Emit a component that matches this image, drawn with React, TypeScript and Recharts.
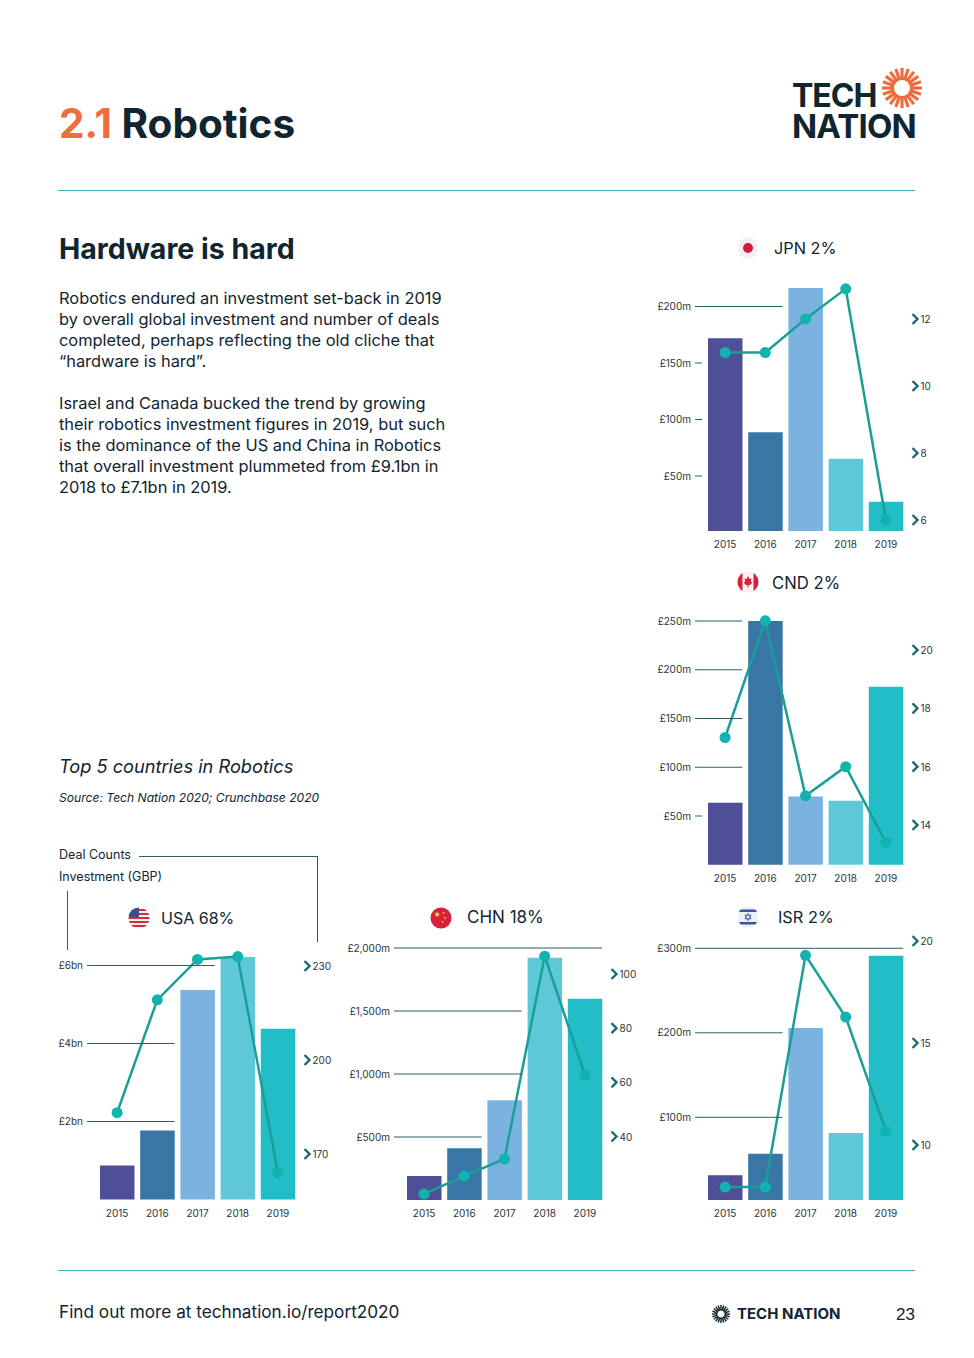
import { Bar, Cell, ComposedChart, Line, XAxis, YAxis } from "recharts";

const years = ["2015", "2016", "2017", "2018", "2019"];
const barColors = ["#4f4f97", "#3776a5", "#7ab3e0", "#5ec8d8", "#22bdc6"];

const usaInvestment = [0.87, 1.77, 5.37, 6.22, 4.38];
const usaDeals = [183.2, 219.2, 232.1, 233, 164];
const usaInvestmentTicks = [2, 4, 6];
const usaDealTicks = [170, 200, 230];

const chnInvestment = [190, 411, 791, 1922, 1598];
const chnDeals = [18.8, 25.4, 31.7, 106.6, 62.7];
const chnInvestmentTicks = [500, 1000, 1500, 2000];
const chnDealTicks = [40, 60, 80, 100];

const isrInvestment = [31.4, 56.9, 205.7, 81.4, 291.2];
const isrDeals = [7.94, 7.94, 19.3, 16.27, 10.69];
const isrInvestmentTicks = [100, 200, 300];
const isrDealTicks = [10, 15, 20];

const jpnInvestment = [172, 88.7, 216.4, 65.3, 27.3];
const jpnDeals = [11, 11, 12, 12.9, 6];
const jpnInvestmentTicks = [50, 100, 150, 200];
const jpnDealTicks = [6, 8, 10, 12];

const cndInvestment = [63.6, 250, 70, 65.6, 182.6];
const cndDeals = [17, 21, 15, 16, 13.4];
const cndInvestmentTicks = [50, 100, 150, 200, 250];
const cndDealTicks = [14, 16, 18, 20];

const introLines = [
  "Robotics endured an investment set-back in 2019",
  "by overall global investment and number of deals",
  "completed, perhaps reflecting the old cliche that",
  "“hardware is hard”.",
  "",
  "Israel and Canada bucked the trend by growing",
  "their robotics investment figures in 2019, but such",
  "is the dominance of the US and China in Robotics",
  "that overall investment plummeted from £9.1bn in",
  "2018 to £7.1bn in 2019.",
];

const FONT = "Inter, sans-serif";
const DARK = "#10252f";
const RULE = "#2f5d68";
const TEAL_RULE = "#3fb3b5";
const TICK_TEXT = "#26363e";
const PLOT_WIDTH = 201;
const BAR_WIDTH = 34.5;
const LEFT_GUTTER = 62;
const RIGHT_GUTTER = 44;

// domain for a plot box, from two known tick positions
function fitDomain(top: number, bottom: number, a: [number, number], b: [number, number]): [number, number] {
  const perPx = (b[0] - a[0]) / (a[1] - b[1]);
  return [a[0] - (bottom - a[1]) * perPx, a[0] + (a[1] - top) * perPx];
}

function InvestmentTick({ x, y, payload, values, format }: any) {
  const band = PLOT_WIDTH / years.length;
  const gap = (band - BAR_WIDTH) / 2;
  let idx = values.findIndex((v: number) => v >= payload.value);
  if (idx < 0) idx = values.length;
  return (
    <g>
      <text x={x - 14} y={y} dy={-0.5} textAnchor="end" dominantBaseline="central" fontSize={10} fill={TICK_TEXT} fontFamily={FONT}>
        {format(payload.value)}
      </text>
      <line x1={x - 10} x2={x + idx * band - gap} y1={y} y2={y} stroke={RULE} strokeWidth={1} />
    </g>
  );
}

function DealTick({ x, y, payload }: any) {
  return (
    <g>
      <path d={`M${x + 6.5} ${y - 5}L${x + 11.5} ${y}L${x + 6.5} ${y + 5}`} fill="none" stroke="#1d6a74" strokeWidth={2.4} />
      <text x={x + 14.5} y={y} textAnchor="start" dominantBaseline="central" fontSize={10} fill={TICK_TEXT} fontFamily={FONT}>
        {payload.value}
      </text>
    </g>
  );
}

function CountryChart({ plotLeft, plotTop, plotBottom, investment, deals, investmentTicks, dealTicks, investmentFit, dealFit, format }: any) {
  const data = years.map((year, i) => ({ year, investment: investment[i], deals: deals[i] }));
  return (
    <div style={{ position: "absolute", left: plotLeft - LEFT_GUTTER, top: plotTop }}>
      <ComposedChart
        width={LEFT_GUTTER + PLOT_WIDTH + RIGHT_GUTTER}
        height={plotBottom - plotTop + 26}
        data={data}
        margin={{ top: 0, right: 0, bottom: 0, left: 0 }}
      >
        <XAxis
          dataKey="year"
          height={26}
          axisLine={false}
          tickLine={false}
          tickSize={0}
          tickMargin={10}
          interval={0}
          tick={{ fontSize: 10, fill: TICK_TEXT, fontFamily: FONT }}
        />
        <YAxis
          yAxisId="investment"
          width={LEFT_GUTTER}
          domain={fitDomain(plotTop, plotBottom, investmentFit[0], investmentFit[1])}
          ticks={investmentTicks}
          interval={0}
          axisLine={false}
          tickLine={false}
          tickSize={0}
          tickMargin={0}
          tick={<InvestmentTick values={investment} format={format} />}
        />
        <YAxis
          yAxisId="deals"
          orientation="right"
          width={RIGHT_GUTTER}
          domain={fitDomain(plotTop, plotBottom, dealFit[0], dealFit[1])}
          ticks={dealTicks}
          interval={0}
          axisLine={false}
          tickLine={false}
          tickSize={0}
          tickMargin={0}
          tick={<DealTick />}
        />
        <Bar yAxisId="investment" dataKey="investment" barSize={BAR_WIDTH} isAnimationActive={false}>
          {years.map((year, i) => (
            <Cell key={year} fill={barColors[i]} />
          ))}
        </Bar>
        <Line
          yAxisId="deals"
          dataKey="deals"
          stroke="#1a9e9a"
          strokeWidth={2.5}
          dot={{ r: 5.5, fill: "#10b3ad", stroke: "none", fillOpacity: 1 }}
          activeDot={false}
          isAnimationActive={false}
        />
      </ComposedChart>
    </div>
  );
}

function Sun({ cx, cy, r, color }: { cx: number; cy: number; r: number; color: string }) {
  const rays = Array.from({ length: 20 }, (_, i) => (i * Math.PI) / 10);
  return (
    <svg style={{ position: "absolute", left: cx - r - 2, top: cy - r - 2 }} width={2 * r + 4} height={2 * r + 4}>
      <g transform={`translate(${r + 2} ${r + 2})`}>
        {rays.map((a) => (
          <line
            key={a}
            x1={Math.cos(a) * r * 0.5}
            y1={Math.sin(a) * r * 0.5}
            x2={Math.cos(a) * r}
            y2={Math.sin(a) * r}
            stroke={color}
            strokeWidth={r * 0.16}
          />
        ))}
        <circle r={r * 0.48} fill="#fff" stroke={color} strokeWidth={r * 0.16} />
      </g>
    </svg>
  );
}

function Flag({ cx, cy, kind }: { cx: number; cy: number; kind: string }) {
  const id = `flag-${kind}`;
  return (
    <svg style={{ position: "absolute", left: cx - 11, top: cy - 11 }} width={22} height={22} viewBox="-11 -11 22 22">
      <clipPath id={id}>
        <circle r={10.5} />
      </clipPath>
      <g clipPath={`url(#${id})`}>
        {kind === "usa" && (
          <g>
            <rect x={-11} y={-11} width={22} height={22} fill="#f4f1f1" />
            {[-9, -5, -1, 3, 7].map((y) => (
              <rect key={y} x={-11} y={y} width={22} height={2} fill="#d8293f" />
            ))}
            <rect x={-11} y={-11} width={11} height={10} fill="#3c4f8e" />
          </g>
        )}
        {kind === "chn" && (
          <g>
            <rect x={-11} y={-11} width={22} height={22} fill="#d8203a" />
            <text x={-4} y={-1} fontSize={8} textAnchor="middle" fill="#f8d548" fontFamily="DejaVu Sans">★</text>
            <text x={2.5} y={-4} fontSize={3.5} textAnchor="middle" fill="#f8d548" fontFamily="DejaVu Sans">★</text>
            <text x={4} y={1} fontSize={3.5} textAnchor="middle" fill="#f8d548" fontFamily="DejaVu Sans">★</text>
            <text x={1.5} y={5} fontSize={3.5} textAnchor="middle" fill="#f8d548" fontFamily="DejaVu Sans">★</text>
          </g>
        )}
        {kind === "isr" && (
          <g>
            <rect x={-11} y={-11} width={22} height={22} fill="#eef0f4" />
            <rect x={-11} y={-7.5} width={22} height={2.5} fill="#3555a5" />
            <rect x={-11} y={5} width={22} height={2.5} fill="#3555a5" />
            <path d="M0 -3.6L3.1 1.8H-3.1ZM0 3.6L-3.1 -1.8H3.1Z" fill="none" stroke="#3555a5" strokeWidth={0.8} />
          </g>
        )}
        {kind === "jpn" && (
          <g>
            <rect x={-11} y={-11} width={22} height={22} fill="#f0f0f0" />
            <circle r={5} fill="#d8193c" />
          </g>
        )}
        {kind === "cnd" && (
          <g>
            <rect x={-11} y={-11} width={22} height={22} fill="#f7f2f2" />
            <rect x={-11} y={-11} width={5.5} height={22} fill="#d8203a" />
            <rect x={5.5} y={-11} width={5.5} height={22} fill="#d8203a" />
            <path d="M0 -6L1.5 -3L3.5 -3.6L2.8 0L4.5 0.5L2 3H0.5V5.5H-0.5V3H-2L-4.5 0.5L-2.8 0L-3.5 -3.6L-1.5 -3Z" fill="#d8203a" />
          </g>
        )}
      </g>
    </svg>
  );
}

function Label({ x, y, size, children, style }: any) {
  return (
    <div style={{ position: "absolute", left: x, top: y - 20, height: 40, lineHeight: "40px", fontSize: size, whiteSpace: "pre", color: DARK, ...style }}>
      {children}
    </div>
  );
}

function Box({ x, y, w, h, color }: any) {
  return <div style={{ position: "absolute", left: x, top: y, width: w, height: h, background: color }} />;
}

const bn = (v: number) => `£${v}bn`;
const mn = (v: number) => `£${v >= 1000 ? v.toLocaleString("en-GB") : v}m`;

export default function App() {
  return (
    <div style={{ position: "absolute", left: 0, top: 0, width: 974, height: 1358, background: "#fff", overflow: "hidden", fontFamily: FONT, color: DARK }}>
      <Label x={59} y={124} size={40.5} style={{ fontWeight: 700 }}>
        <span style={{ color: "#ee6c3d" }}>2.1</span> Robotics
      </Label>
      <Label x={792} y={96} size={32} style={{ fontWeight: 700, letterSpacing: -1 }}>TECH</Label>
      <Label x={792} y={126} size={33} style={{ fontWeight: 700, letterSpacing: -0.8 }}>NATION</Label>
      <Sun cx={902} cy={88} r={20} color="#ee6c3d" />
      <Box x={58} y={190} w={857} h={1} color={TEAL_RULE} />

      <Label x={59} y={249} size={28.5} style={{ fontWeight: 700 }}>Hardware is hard</Label>
      {introLines.map((line, i) => (
        <Label key={i} x={59} y={298 + i * 21} size={16.4}>{line}</Label>
      ))}

      <Label x={59} y={766} size={18.2} style={{ fontStyle: "italic" }}>Top 5 countries in Robotics</Label>
      <Label x={59} y={798} size={12.1} style={{ fontStyle: "italic" }}>Source: Tech Nation 2020; Crunchbase 2020</Label>

      <Label x={59} y={855} size={12.5}>Deal Counts</Label>
      <Label x={59} y={877} size={12.5}>Investment (GBP)</Label>
      <Box x={139} y={856} w={179} h={1} color={RULE} />
      <Box x={317} y={856} w={1} h={86} color={RULE} />
      <Box x={67} y={891} w={1} h={59} color={RULE} />

      <Flag cx={139} cy={917.5} kind="usa" />
      <Label x={161} y={918} size={16}>USA 68%</Label>
      <Flag cx={441} cy={917.5} kind="chn" />
      <Label x={467} y={917} size={17}>CHN 18%</Label>
      <Flag cx={748} cy={917} kind="isr" />
      <Label x={778} y={917} size={16.3}>ISR 2%</Label>
      <Flag cx={748} cy={248} kind="jpn" />
      <Label x={774} y={248} size={16.3}>JPN 2%</Label>
      <Flag cx={748} cy={582} kind="cnd" />
      <Label x={772} y={583} size={16.7}>CND 2%</Label>

      <CountryChart
        plotLeft={705}
        plotTop={270}
        plotBottom={531}
        investment={jpnInvestment}
        deals={jpnDeals}
        investmentTicks={jpnInvestmentTicks}
        dealTicks={jpnDealTicks}
        investmentFit={[[50, 476], [200, 306.5]]}
        dealFit={[[6, 520], [12, 319]]}
        format={mn}
      />
      <CountryChart
        plotLeft={705}
        plotTop={605}
        plotBottom={865}
        investment={cndInvestment}
        deals={cndDeals}
        investmentTicks={cndInvestmentTicks}
        dealTicks={cndDealTicks}
        investmentFit={[[50, 816], [250, 621]]}
        dealFit={[[14, 825], [20, 650]]}
        format={mn}
      />
      <CountryChart
        plotLeft={96.6}
        plotTop={945}
        plotBottom={1200}
        investment={usaInvestment}
        deals={usaDeals}
        investmentTicks={usaInvestmentTicks}
        dealTicks={usaDealTicks}
        investmentFit={[[2, 1121.5], [6, 965.5]]}
        dealFit={[[170, 1154], [230, 966]]}
        format={bn}
      />
      <CountryChart
        plotLeft={403.7}
        plotTop={935}
        plotBottom={1200}
        investment={chnInvestment}
        deals={chnDeals}
        investmentTicks={chnInvestmentTicks}
        dealTicks={chnDealTicks}
        investmentFit={[[500, 1137], [2000, 948]]}
        dealFit={[[40, 1136.5], [100, 974]]}
        format={mn}
      />
      <CountryChart
        plotLeft={705}
        plotTop={935}
        plotBottom={1200}
        investment={isrInvestment}
        deals={isrDeals}
        investmentTicks={isrInvestmentTicks}
        dealTicks={isrDealTicks}
        investmentFit={[[100, 1117.3], [300, 948.3]]}
        dealFit={[[10, 1145], [20, 941]]}
        format={mn}
      />

      <Box x={58} y={1270} w={857} h={1} color={TEAL_RULE} />
      <Label x={59} y={1312} size={17.2}>Find out more at technation.io/report2020</Label>
      <Sun cx={721} cy={1314} r={9} color={DARK} />
      <Label x={737} y={1314} size={15} style={{ fontWeight: 700 }}>TECH NATION</Label>
      <Label x={896} y={1315} size={17} style={{ fontFamily: "'Liberation Sans', sans-serif" }}>23</Label>
    </div>
  );
}
